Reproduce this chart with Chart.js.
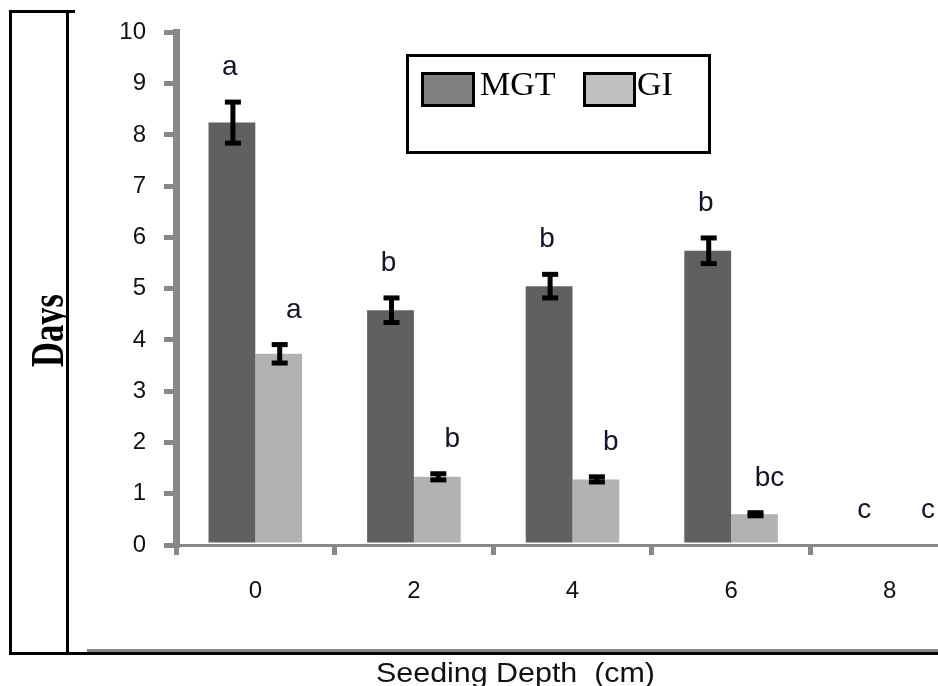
<!DOCTYPE html>
<html><head><meta charset="utf-8">
<script src="https://cdn.jsdelivr.net/npm/chart.js@4/dist/chart.umd.min.js"></script>
<style>html,body{margin:0;padding:0;background:#fff;overflow:hidden;width:938px;height:686px}
canvas{position:absolute;left:0;top:0}</style></head>
<body><canvas id="c" width="1000" height="686"></canvas>
<script>
// ---- data ----
const categories = ['0', '2', '4', '6', '8'];
const seriesNames = ['MGT', 'GI'];
const mgtValues = [8.24, 4.58, 5.05, 5.74, 0];
const mgtErrors = [0.40, 0.24, 0.23, 0.25, 0];
const giValues = [3.73, 1.33, 1.28, 0.60, 0];
const giErrors = [0.18, 0.06, 0.05, 0.03, 0];
const mgtLetters = ['a', 'b', 'b', 'b', 'c'];
const giLetters = ['a', 'b', 'b', 'bc', 'c'];
const yMin = 0, yMax = 10, yStep = 1;
const xTitle = 'Seeding Depth  (cm)';
const yTitle = 'Days';

// ---- styles ----
const barColors = ['#606060', '#b2b2b2'];
const legendColors = ['#808080', '#c0c0c0'];
const axisGray = '#888888';

const errorBars = {
  id: 'errorBars',
  afterDatasetsDraw(chart) {
    const ctx = chart.ctx, ys = chart.scales.y;
    chart.data.datasets.forEach((ds, i) => {
      chart.getDatasetMeta(i).data.forEach((bar, j) => {
        const v = ds.data[j], e = ds.errors[j];
        if (!e) return;
        const yt = ys.getPixelForValue(v + e), yb = ys.getPixelForValue(v - e);
        const x = bar.x + 1;
        ctx.save();
        ctx.fillStyle = '#000';
        ctx.fillRect(x - 2.5, yt, 5, yb - yt);
        ctx.fillRect(x - 8, yt - 2.5, 16, 5);
        ctx.fillRect(x - 8, yb - 2.5, 16, 5);
        ctx.restore();
      });
    });
  }
};

const letters = {
  id: 'letters',
  afterDatasetsDraw(chart) {
    const ctx = chart.ctx, ys = chart.scales.y;
    ctx.save();
    ctx.font = '28px "Liberation Sans", Arial, sans-serif';
    ctx.fillStyle = '#15152a';
    ctx.textAlign = 'center';
    ctx.textBaseline = 'alphabetic';
    chart.data.datasets.forEach((ds, i) => {
      chart.getDatasetMeta(i).data.forEach((bar, j) => {
        const v = ds.data[j], e = ds.errors[j];
        const y = ys.getPixelForValue(v + e) - 27;
        ctx.fillText(ds.letters[j], bar.x + (i === 0 ? -2 : 15), y);
      });
    });
    ctx.restore();
  }
};

const decorations = {
  id: 'decorations',
  afterDraw(chart) {
    const ctx = chart.ctx;
    ctx.save();
    // outer frame
    ctx.strokeStyle = '#000'; ctx.lineWidth = 3;
    ctx.beginPath();
    ctx.moveTo(10.5, 10); ctx.lineTo(10.5, 655);
    ctx.moveTo(67.5, 10); ctx.lineTo(67.5, 655);
    ctx.moveTo(9, 11.5); ctx.lineTo(75, 11.5);
    ctx.moveTo(9, 653.5); ctx.lineTo(940, 653.5);
    ctx.stroke();
    ctx.strokeStyle = axisGray;
    ctx.beginPath(); ctx.moveTo(87, 650.5); ctx.lineTo(940, 650.5); ctx.stroke();

    // y title
    ctx.save();
    ctx.beginPath(); ctx.rect(12, 13, 54, 638); ctx.clip();
    ctx.translate(63, 330.5);
    ctx.rotate(-Math.PI / 2);
    ctx.scale(0.75, 1);
    ctx.font = 'bold 46px "Liberation Serif", "Times New Roman", serif';
    ctx.fillStyle = '#000';
    ctx.textAlign = 'center'; ctx.textBaseline = 'alphabetic';
    ctx.fillText(yTitle, 0, 0);
    ctx.restore();

    // x title
    ctx.save();
    ctx.font = '28px "Liberation Sans", Arial, sans-serif';
    const w = ctx.measureText(xTitle).width;
    ctx.translate(515.5, 682);
    ctx.scale(279 / w, 1);
    ctx.fillStyle = '#111';
    ctx.textAlign = 'center'; ctx.textBaseline = 'alphabetic';
    ctx.fillText(xTitle, 0, 0);
    ctx.restore();

    // legend
    ctx.lineWidth = 3; ctx.strokeStyle = '#000';
    ctx.fillStyle = '#fff';
    ctx.fillRect(407.5, 55.5, 302, 97);
    ctx.strokeRect(407.5, 55.5, 302, 97);
    const sw = [[422.5, 51, 480], [584.5, 50, 637]];
    chart.data.datasets.forEach((ds, i) => {
      ctx.fillStyle = legendColors[i];
      ctx.fillRect(sw[i][0], 73.5, sw[i][1], 32);
      ctx.strokeRect(sw[i][0], 73.5, sw[i][1], 32);
      ctx.fillStyle = '#000';
      ctx.font = '34px "Liberation Serif", "Times New Roman", serif';
      ctx.textAlign = 'left'; ctx.textBaseline = 'alphabetic';
      ctx.fillText(ds.label, sw[i][2], 95);
    });
    ctx.restore();
  }
};

new Chart(document.getElementById('c'), {
  type: 'bar',
  data: {
    labels: categories,
    datasets: [
      { label: seriesNames[0], data: mgtValues, errors: mgtErrors, letters: mgtLetters,
        backgroundColor: barColors[0], borderWidth: 0 },
      { label: seriesNames[1], data: giValues, errors: giErrors, letters: giLetters,
        backgroundColor: barColors[1], borderWidth: 0 }
    ]
  },
  options: {
    responsive: false,
    animation: false,
    devicePixelRatio: 1,
    categoryPercentage: 0.59,
    barPercentage: 1,
    layout: { padding: { left: 0, right: 31, top: 32, bottom: 0 } },
    plugins: { legend: { display: false }, tooltip: { enabled: false } },
    scales: {
      x: {
        offset: true,
        grid: { display: true, drawOnChartArea: false, offset: true, color: axisGray, lineWidth: 5, tickLength: 10 },
        border: { display: true, color: axisGray, width: 3 },
        ticks: { color: '#111', font: { family: '"Liberation Sans", Arial, sans-serif', size: 24 }, padding: 22 },
        afterFit(s) { s.height = 141; }
      },
      y: {
        min: yMin, max: yMax,
        ticks: { stepSize: yStep, color: '#111', font: { family: '"Liberation Sans", Arial, sans-serif', size: 24 }, padding: 18 },
        grid: { display: true, drawOnChartArea: false, color: axisGray, lineWidth: 5, tickLength: 12 },
        border: { display: true, color: axisGray, width: 7 },
        afterFit(s) { s.width = 176; }
      }
    }
  },
  plugins: [errorBars, letters, decorations]
});
</script>
</body></html>
